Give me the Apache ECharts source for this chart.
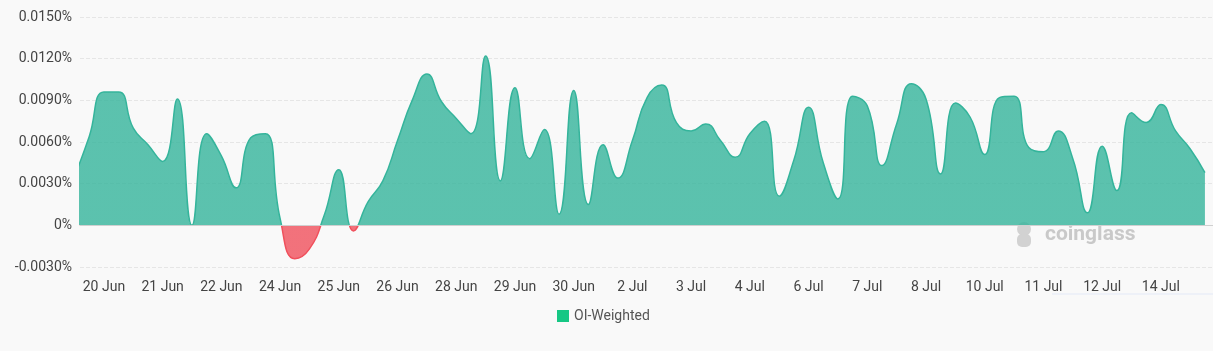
<!DOCTYPE html>
<html>
<head>
<meta charset="utf-8">
<script src="https://cdn.jsdelivr.net/npm/echarts@6/dist/echarts.min.js"></script>
<style>
  html, body { margin: 0; padding: 0; background: #f9f9f9; }
  #chart { width: 1213px; height: 351px; }
</style>
</head>
<body>
<div id="chart"></div>
<script>
// 8-hour funding slots
var times = [
  "19 Jun 08:00", "19 Jun 16:00",
  "20 Jun 00:00", "20 Jun 08:00", "20 Jun 16:00",
  "21 Jun 00:00", "21 Jun 08:00", "21 Jun 16:00",
  "22 Jun 00:00", "22 Jun 08:00", "22 Jun 16:00",
  "23 Jun 00:00", "23 Jun 08:00", "23 Jun 16:00",
  "24 Jun 00:00", "24 Jun 08:00", "24 Jun 16:00",
  "25 Jun 00:00", "25 Jun 08:00", "25 Jun 16:00",
  "26 Jun 00:00", "26 Jun 08:00", "26 Jun 16:00",
  "27 Jun 00:00", "27 Jun 08:00", "27 Jun 16:00",
  "28 Jun 00:00", "28 Jun 08:00", "28 Jun 16:00",
  "29 Jun 00:00", "29 Jun 08:00", "29 Jun 16:00",
  "30 Jun 00:00", "30 Jun 08:00", "30 Jun 16:00",
  "1 Jul 00:00", "1 Jul 08:00", "1 Jul 16:00",
  "2 Jul 00:00", "2 Jul 08:00", "2 Jul 16:00",
  "3 Jul 00:00", "3 Jul 08:00", "3 Jul 16:00",
  "4 Jul 00:00", "4 Jul 08:00", "4 Jul 16:00",
  "5 Jul 00:00", "5 Jul 08:00", "5 Jul 16:00",
  "6 Jul 00:00", "6 Jul 08:00", "6 Jul 16:00",
  "7 Jul 00:00", "7 Jul 08:00", "7 Jul 16:00",
  "8 Jul 00:00", "8 Jul 08:00", "8 Jul 16:00",
  "9 Jul 00:00", "9 Jul 08:00", "9 Jul 16:00",
  "10 Jul 00:00", "10 Jul 08:00", "10 Jul 16:00",
  "11 Jul 00:00", "11 Jul 08:00", "11 Jul 16:00",
  "12 Jul 00:00", "12 Jul 08:00", "12 Jul 16:00",
  "13 Jul 00:00", "13 Jul 08:00", "13 Jul 16:00",
  "14 Jul 00:00", "14 Jul 08:00", "14 Jul 16:00",
  "15 Jul 00:00"
];

// OI-weighted funding rate, in %
var oiWeighted = [
  0.0035, 0.0064,
  0.0096, 0.0096, 0.0070,
  0.0058, 0.0046, 0.0091,
  0.0000, 0.0066, 0.0050,
  0.0027, 0.0063, 0.0066,
  0.0005, -0.0024, -0.0017,
  0.0007, 0.0040, -0.0004,
  0.0017, 0.0032, 0.0061,
  0.0090, 0.0109, 0.0089,
  0.0077, 0.0066, 0.0122,
  0.0032, 0.0099, 0.0048,
  0.0069, 0.0008, 0.0097,
  0.0015, 0.0058, 0.0034,
  0.0061, 0.0092, 0.0101,
  0.0074, 0.0068, 0.0073,
  0.0061, 0.0049, 0.0066,
  0.0075, 0.0021, 0.0047,
  0.0085, 0.0045, 0.0019,
  0.0093, 0.0086, 0.0043,
  0.0073, 0.0102, 0.0091,
  0.0037, 0.0088, 0.0078,
  0.0051, 0.0092, 0.0093,
  0.0056, 0.0053, 0.0068,
  0.0048, 0.0009, 0.0057,
  0.0025, 0.0081, 0.0074,
  0.0087, 0.0068, 0.0055,
  0.0038
];

// x labels and the slots they sit on
var tickIndex = [2, 6, 10, 14, 18, 22, 26, 30, 34, 38, 42, 46, 50, 54, 58, 62, 66, 70, 74];
var tickLabels = ["20 Jun", "21 Jun", "22 Jun", "24 Jun", "25 Jun", "26 Jun", "28 Jun", "29 Jun", "30 Jun",
  "2 Jul", "3 Jul", "4 Jul", "6 Jul", "7 Jul", "8 Jul", "10 Jul", "11 Jul", "12 Jul", "14 Jul"];

var myChart = echarts.init(document.getElementById("chart"));

var seriesData = oiWeighted.map(function (v, i) {
  return [i, v];
});

var option = {
  backgroundColor: "#f9f9f9",
  animation: false,
  textStyle: { fontFamily: "Roboto" },
  grid: { left: 80, right: 0, top: 17, bottom: 84 },
  legend: {
    data: ["OI-Weighted"],
    left: 552,
    top: 304,
    icon: "rect",
    itemWidth: 12,
    itemHeight: 12,
    itemGap: 10,
    textStyle: { color: "#555", fontSize: 14 }
  },
  visualMap: {
    show: false,
    type: "piecewise",
    seriesIndex: 0,
    dimension: 1,
    pieces: [
      { gt: 0, lte: 1, color: "#34b49b" },
      { gte: -1, lte: 0, color: "#f0505c" }
    ]
  },
  xAxis: {
    type: "value",
    min: 0.37,
    max: 77.55,
    axisLine: { show: false },
    axisTick: { show: false },
    splitLine: { show: false },
    axisLabel: {
      customValues: tickIndex,
      color: "#444",
      fontSize: 14,
      margin: 13,
      formatter: function (v) {
        var k = tickIndex.indexOf(Math.round(v));
        return k >= 0 ? tickLabels[k] : "";
      }
    }
  },
  yAxis: {
    type: "value",
    min: -0.003,
    max: 0.015,
    interval: 0.003,
    axisLine: { show: false },
    axisTick: { show: false },
    splitLine: { lineStyle: { type: "dashed", color: "#e6e6e6" } },
    axisLabel: {
      color: "#444",
      fontSize: 14,
      margin: 8,
      formatter: function (v) {
        if (Math.abs(v) < 1e-9) return "0%";
        return v.toFixed(4) + "%";
      }
    }
  },
  graphic: [
    // watermark
    { type: "circle", shape: { cx: 1024, cy: 229, r: 7 }, style: { fill: "#d2d2d2" } },
    { type: "rect", shape: { x: 1017, y: 234, width: 14, height: 13, r: 5 }, style: { fill: "#d2d2d2" } },
    {
      type: "text",
      left: 1045,
      top: 224,
      style: { text: "coinglass", fill: "#c9c9c9", font: "bold 21px Roboto" }
    },
    {
      type: "line",
      shape: { x1: 1052, y1: 294, x2: 1213, y2: 294 },
      style: { stroke: "#e3e9f7", lineWidth: 1 }
    }
  ],
  series: [
    {
      name: "OI-Weighted",
      type: "line",
      data: seriesData,
      smooth: true,
      showSymbol: false,
      color: "#16c784",
      lineStyle: { width: 1.5 },
      areaStyle: { opacity: 0.8 },
      markLine: {
        silent: true,
        symbol: "none",
        label: { show: false },
        lineStyle: { type: "solid", color: "#d0d0d0", width: 1 },
        data: [{ yAxis: 0 }]
      }
    }
  ]
};

myChart.setOption(option);
</script>
</body>
</html>
